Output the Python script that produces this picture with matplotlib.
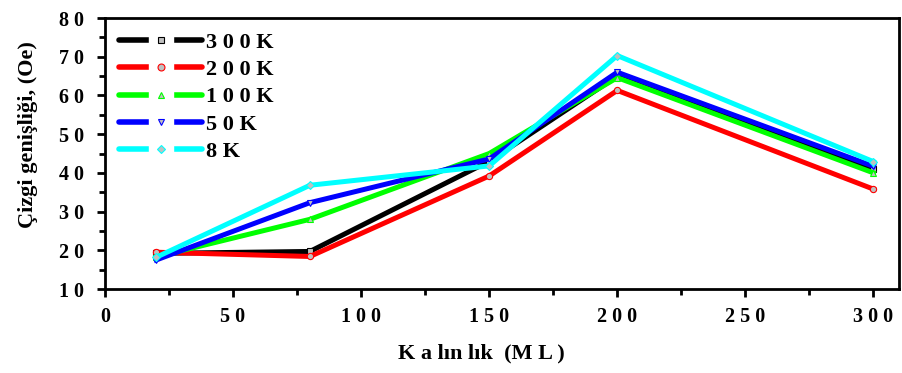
import numpy as np
import matplotlib
matplotlib.use("Agg")
import matplotlib.pyplot as plt
from matplotlib.ticker import MultipleLocator
from matplotlib.lines import Line2D

plt.rcParams['font.family'] = ['Liberation Serif', 'DejaVu Serif']
plt.rcParams['font.weight'] = 'bold'

# thickness (ML)
thickness = [20, 80, 150, 200, 300]

# line width (Oe) at each temperature
k300 = [19.2, 19.7, 43.0, 65.0, 40.9]
k200 = [19.5, 18.4, 39.2, 61.3, 35.8]
k100 = [18.3, 28.0, 45.0, 64.6, 40.0]
k50 = [17.5, 32.3, 43.6, 66.0, 41.7]
k8 = [18.2, 36.8, 41.8, 70.3, 42.9]

labels = ['3 0 0 K', '2 0 0 K', '1 0 0 K', '5 0 K', '8 K']
colors = ['#000000', '#ff0000', '#00ff00', '#0000ff', '#00ffff']
markers = ['s', 'o', '^', 'v', 'D']
series = [k300, k200, k100, k50, k8]

fig = plt.figure(figsize=(9.02, 3.73), dpi=100)
ax = fig.add_axes([0.1164, 0.2252, 0.8803, 0.7265])

handles = []
for ys, lab, c, m in zip(series, labels, colors, markers):
    ms = 4.5 if m != 'D' else 4
    ax.plot(thickness, ys, color=c, lw=3.6, marker=m, ms=ms,
            mfc='#c0c0c0', mec=c, mew=0.8, solid_joinstyle='miter')
    # legend: line broken around the marker
    h_line = Line2D([], [], color=c, lw=4, solid_capstyle='round')
    h_gap = Line2D([], [], ls='', marker='s', ms=17, mfc='white', mec='white')
    h_mk = Line2D([], [], ls='', marker=m, ms=ms + 0.5, mfc='#c0c0c0', mec=c, mew=0.8)
    handles.append((h_line, h_gap, h_mk))

ax.set_xlim(0, 310)
ax.set_ylim(10, 80)
xt = np.arange(0, 301, 50)
ax.set_xticks(xt)
ax.set_xticklabels([' '.join(str(v)) for v in xt])
yt = np.arange(10, 81, 10)
ax.set_yticks(yt)
ax.set_yticklabels([' '.join(str(v)) for v in yt])
ax.xaxis.set_minor_locator(MultipleLocator(25))
ax.yaxis.set_minor_locator(MultipleLocator(5))

ax.tick_params(which='both', direction='out', top=False, right=False,
               labelsize=14.5, width=2)
ax.tick_params(which='major', length=6)
ax.tick_params(which='minor', length=4)
ax.tick_params(axis='x', pad=7)
ax.tick_params(axis='y', pad=9)
for s in ax.spines.values():
    s.set_linewidth(2)

ax.set_xlabel('K a lın lık  (M L )', fontsize=16, fontweight='bold')
ax.xaxis.set_label_coords(0.474, -0.2)
ax.set_ylabel('Çizgi genişliği, (Oe)', fontsize=16, fontweight='bold')
ax.yaxis.set_label_coords(-0.085, 0.57)

ax.legend(handles, labels, loc='upper left', frameon=False, fontsize=16,
          handlelength=3.7, handletextpad=0.2, labelspacing=0.3,
          borderaxespad=0.25)

fig.savefig('out.png', dpi=100)
